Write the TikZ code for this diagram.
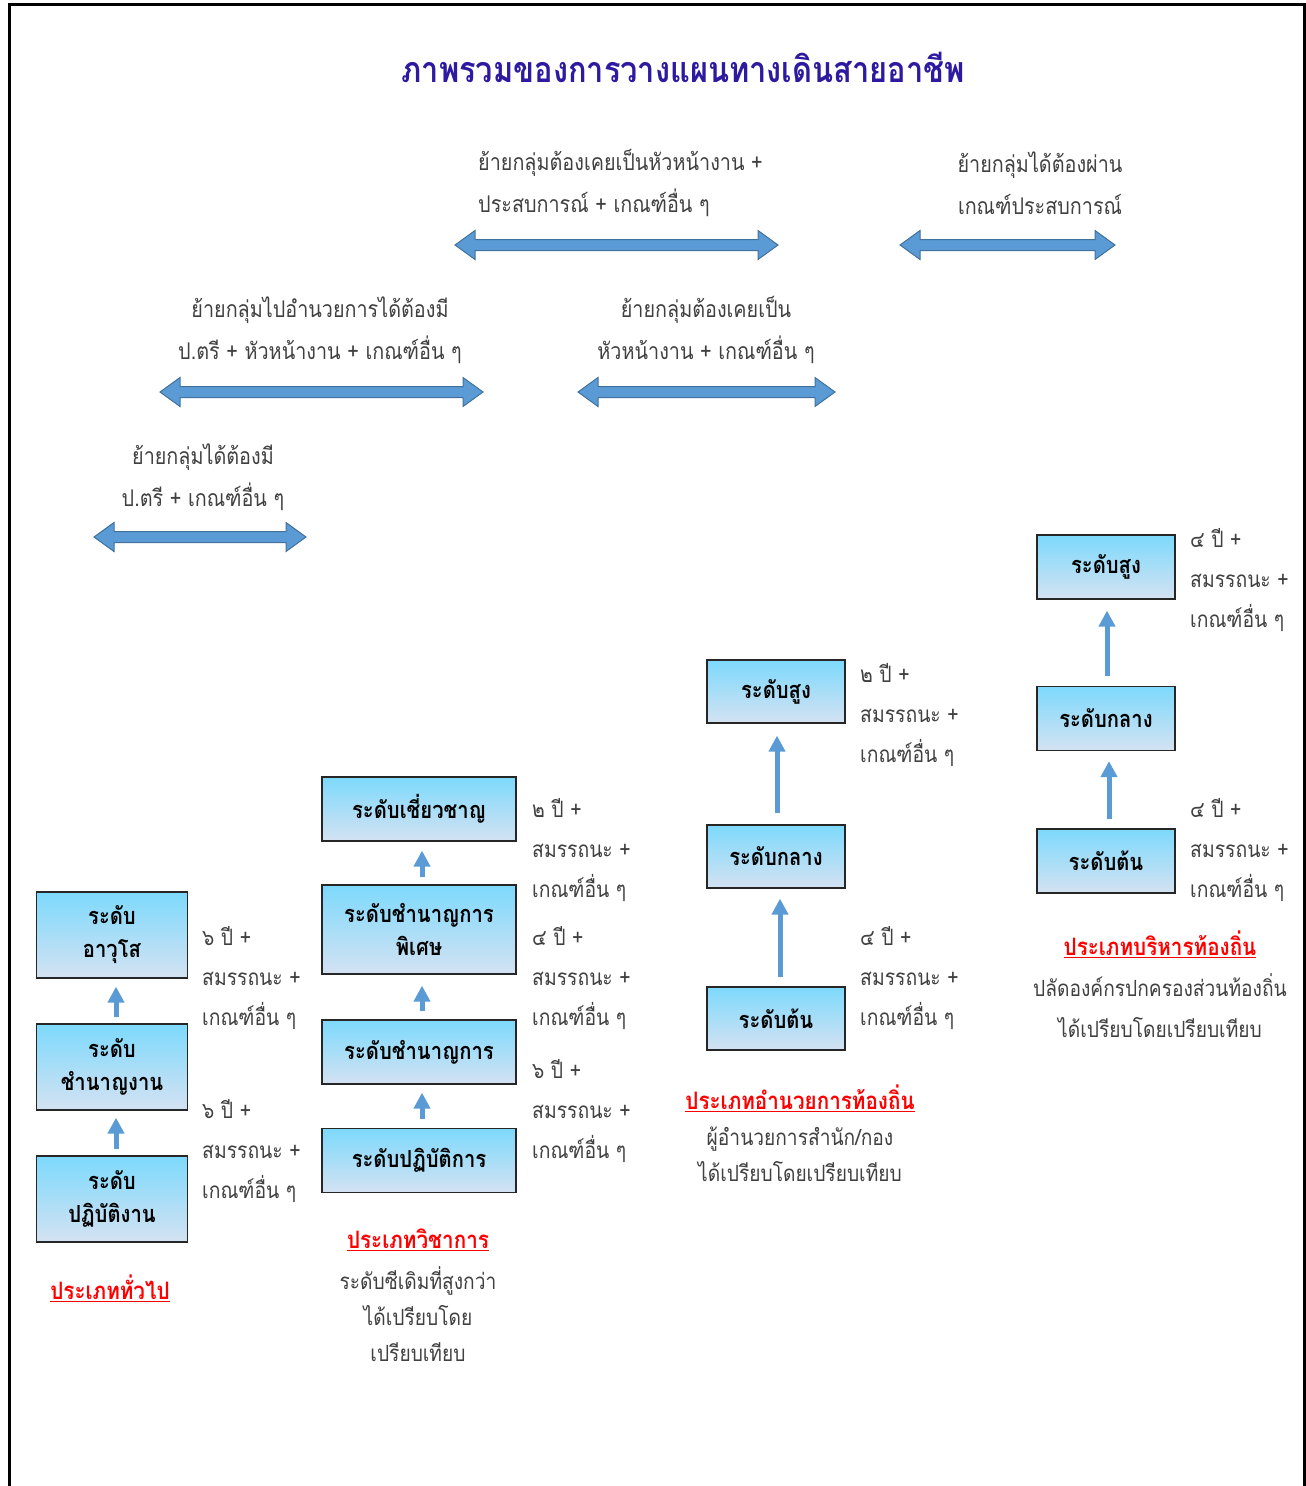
\documentclass[tikz,border=0pt]{standalone}
\usepackage{fontspec}
\setmainfont{Loma}[Script=Thai, FakeStretch=0.86]
\usetikzlibrary{arrows.meta}

\definecolor{titleblue}{RGB}{46,26,160}
\definecolor{boxtop}{RGB}{125,217,252}
\definecolor{boxbottom}{RGB}{212,226,242}
\definecolor{arrowfill}{RGB}{91,155,213}
\definecolor{arrowline}{RGB}{65,113,156}
\definecolor{bodytext}{RGB}{64,64,64}

\newcommand{\req}[1]{#1 ปี +\\สมรรถนะ +\\เกณฑ์อื่น ๆ}
\newcommand{\movearrow}[3]{% left x, right x, y
  \draw[movebar] (#1,#3) -- (#1+20,#3-14.5) -- (#1+20,#3-5.5) -- (#2-20,#3-5.5)
    -- (#2-20,#3-14.5) -- (#2,#3) -- (#2-20,#3+14.5) -- (#2-20,#3+5.5)
    -- (#1+20,#3+5.5) -- (#1+20,#3+14.5) -- cycle;}

\begin{document}
\begin{tikzpicture}[x=1pt, y=-1pt,
  rankbox/.style={draw=black!85, line width=1.2pt, top color=boxtop, bottom color=boxbottom,
    align=center, inner sep=0pt, font=\fontsize{23.5}{33}\selectfont\bfseries},
  movebar/.style={fill=arrowfill, draw=arrowline, line width=1pt},
  up/.style={draw=arrowfill, line width=5pt, -{Triangle[width=16pt,length=16pt]}},
  reqtext/.style={anchor=west, align=left, inner sep=0pt, text=bodytext,
    font=\fontsize{22.5}{40}\selectfont},
  movetext/.style={align=center, inner sep=0pt, text=bodytext,
    font=\fontsize{23}{42}\selectfont},
  kind/.style={inner sep=0pt, text=red, font=\fontsize{24}{26}\selectfont\bfseries},
  kindnote/.style={align=center, inner sep=0pt, text=bodytext}]
  \useasboundingbox (0,0) rectangle (1306,1486);

  % frame
  \draw[line width=3pt] (9,1490) -- (9,4) -- (1304,4) -- (1304,1490);

  % title
  \node[text=titleblue, font=\fontsize{35.8}{40}\selectfont\bfseries] (title) at (683,67)
    {ภาพรวมของการวางแผนทางเดินสายอาชีพ};

  % moving between groups
  \node[movetext, anchor=west, align=left] (move1) at (478,183)
    {ย้ายกลุ่มต้องเคยเป็นหัวหน้างาน +\\ประสบการณ์ + เกณฑ์อื่น ๆ};
  \movearrow{455}{778}{245}
  \node[movetext] (move2) at (1040,183) {ย้ายกลุ่มได้ต้องผ่าน\\เกณฑ์ประสบการณ์};
  \movearrow{900}{1115}{245}
  \node[movetext] (move3) at (320,330)
    {ย้ายกลุ่มไปอำนวยการได้ต้องมี\\ป.ตรี + หัวหน้างาน + เกณฑ์อื่น ๆ};
  \movearrow{160}{483}{392}
  \node[movetext] (move4) at (706,330) {ย้ายกลุ่มต้องเคยเป็น\\หัวหน้างาน + เกณฑ์อื่น ๆ};
  \movearrow{578}{835}{392}
  \node[movetext] (move5) at (203,477) {ย้ายกลุ่มได้ต้องมี\\ป.ตรี + เกณฑ์อื่น ๆ};
  \movearrow{94}{306}{537}

  % general
  \begin{scope}[every node/.append style={minimum width=151pt, minimum height=86pt}]
    \node[rankbox] (gen1) at (112,1199) {ระดับ\\ปฏิบัติงาน};
    \node[rankbox] (gen2) at (112,1067) {ระดับ\\ชำนาญงาน};
    \node[rankbox] (gen3) at (112,935) {ระดับ\\อาวุโส};
  \end{scope}
  \draw[up, shorten <=6pt, shorten >=7pt] ([xshift=4pt]gen1.north) -- ([xshift=4pt]gen2.south);
  \draw[up, shorten <=6pt, shorten >=8pt] ([xshift=4pt]gen2.north) -- ([xshift=4pt]gen3.south);
  \node[reqtext] (genreq1) at (202,1151) {\req{๖}};
  \node[reqtext] (genreq2) at (202,978) {\req{๖}};
  \node[kind] (genkind) at (110,1288) {\underline{ประเภททั่วไป}};

  % academic
  \begin{scope}[every node/.append style={minimum width=194pt, minimum height=64pt}]
    \node[rankbox] (aca1) at (419,1160.5) {ระดับปฏิบัติการ};
    \node[rankbox] (aca2) at (419,1052) {ระดับชำนาญการ};
    \node[rankbox, minimum height=89pt] (aca3) at (419,929.5) {ระดับชำนาญการ\\พิเศษ};
    \node[rankbox] (aca4) at (419,809) {ระดับเชี่ยวชาญ};
  \end{scope}
  \draw[up, shorten <=9pt, shorten >=8pt] ([xshift=3pt]aca1.north) -- ([xshift=3pt]aca2.south);
  \draw[up, shorten <=8pt, shorten >=11pt] ([xshift=3pt]aca2.north) -- ([xshift=3pt]aca3.south);
  \draw[up, shorten <=7pt, shorten >=9pt] ([xshift=3pt]aca3.north) -- ([xshift=3pt]aca4.south);
  \node[reqtext] (acareq1) at (532,1111) {\req{๖}};
  \node[reqtext] (acareq2) at (532,978) {\req{๔}};
  \node[reqtext] (acareq3) at (532,850) {\req{๒}};
  \node[kind] (acakind) at (418,1240) {\underline{ประเภทวิชาการ}};
  \node[kindnote, font=\fontsize{22.3}{36}\selectfont] (acanote) at (418,1314)
    {ระดับซีเดิมที่สูงกว่า\\ได้เปรียบโดย\\เปรียบเทียบ};

  % local director
  \begin{scope}[every node/.append style={minimum width=138pt, minimum height=63pt}]
    \node[rankbox] (dir1) at (776,1018.5) {ระดับต้น};
    \node[rankbox] (dir2) at (776,856.5) {ระดับกลาง};
    \node[rankbox] (dir3) at (776,691.5) {ระดับสูง};
  \end{scope}
  \draw[up, shorten <=9pt, shorten >=10pt] ([xshift=4pt]dir1.north) -- ([xshift=4pt]dir2.south);
  \draw[up, shorten <=11pt, shorten >=12pt] ([xshift=1pt]dir2.north) -- ([xshift=1pt]dir3.south);
  \node[reqtext] (dirreq1) at (860,978) {\req{๔}};
  \node[reqtext] (dirreq2) at (860,715) {\req{๒}};
  \node[kind] (dirkind) at (800,1098) {\underline{ประเภทอำนวยการท้องถิ่น}};
  \node[kindnote, font=\fontsize{22.3}{36}\selectfont] (dirnote) at (800,1154)
    {ผู้อำนวยการสำนัก/กอง\\ได้เปรียบโดยเปรียบเทียบ};

  % local administrator
  \begin{scope}[every node/.append style={minimum width=138pt, minimum height=64pt}]
    \node[rankbox] (adm1) at (1106,861) {ระดับต้น};
    \node[rankbox] (adm2) at (1106,718.5) {ระดับกลาง};
    \node[rankbox] (adm3) at (1106,567) {ระดับสูง};
  \end{scope}
  \draw[up, shorten <=9pt, shorten >=10pt] ([xshift=3pt]adm1.north) -- ([xshift=3pt]adm2.south);
  \draw[up, shorten <=10pt, shorten >=11pt] ([xshift=1pt]adm2.north) -- ([xshift=1pt]adm3.south);
  \node[reqtext] (admreq1) at (1190,850) {\req{๔}};
  \node[reqtext] (admreq2) at (1190,580) {\req{๔}};
  \node[kind] (admkind) at (1160,944) {\underline{ประเภทบริหารท้องถิ่น}};
  \node[kindnote, font=\fontsize{22.3}{41}\selectfont] (admnote) at (1160,1005.5)
    {ปลัดองค์กรปกครองส่วนท้องถิ่น\\ได้เปรียบโดยเปรียบเทียบ};
\end{tikzpicture}
\end{document}
